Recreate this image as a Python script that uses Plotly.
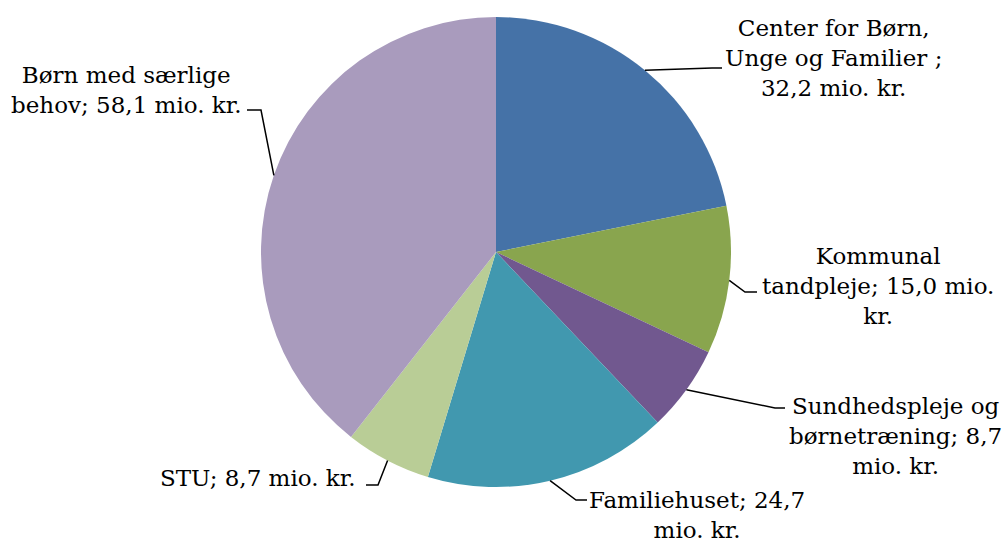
import math
import plotly.graph_objects as go

# data (mio. kr.)
labels = [
    "Center for Børn,<br>Unge og Familier ;<br>32,2 mio. kr.",
    "Kommunal<br>tandpleje; 15,0 mio.<br>kr.",
    "Sundhedspleje og<br>børnetræning; 8,7<br>mio. kr.",
    "Familiehuset; 24,7<br>mio. kr.",
    "STU; 8,7 mio. kr.",
    "Børn med særlige<br>behov; 58,1 mio. kr.",
]
values = [32.2, 15.0, 8.7, 24.7, 8.7, 58.1]
colors = ["#4572A7", "#89A54E", "#71588F", "#4198AF", "#B9CD96", "#A99BBD"]

# label layout (pixels in the 1004x543 page)
W, H = 1004, 543
CX, CY, R = 496, 252, 235
text_pos = [(833, 58, "center"), (878, 286, "center"), (895, 436, "center"),
            (697, 515, "center"), (358, 478, "right"), (126, 90, "center")]
anchors = [(722, 68), (757, 292), (785, 408), (587, 500), (366, 485), (247, 110)]
elbows = [(712, 68), (745, 292), (775, 408), (576, 500), (378, 485), (261, 110)]

FONT = "DejaVu Serif, Book Antiqua, Palatino Linotype, serif"

fig = go.Figure()
fig.add_trace(
    go.Pie(
        values=values,
        labels=[l.replace("<br>", " ") for l in labels],
        marker=dict(colors=colors, line=dict(width=0)),
        sort=False,
        direction="clockwise",
        rotation=0,
        textinfo="none",
        hoverinfo="label+value",
        domain=dict(x=[(CX - R) / W, (CX + R) / W],
                    y=[(H - CY - R) / H, (H - CY + R) / H]),
        showlegend=False,
    )
)

# leader lines from the middle of each slice's edge to its label
total = sum(values)
start = 0.0
shapes = []
for v, (ex, ey), (ax, ay) in zip(values, elbows, anchors):
    mid = (start + v / 2) / total * 2 * math.pi
    start += v
    px = CX + R * math.sin(mid)
    py = CY - R * math.cos(mid)
    path = f"M {px/W} {1-py/H} L {ex/W} {1-ey/H} L {ax/W} {1-ay/H}"
    shapes.append(dict(type="path", xref="paper", yref="paper", path=path,
                       line=dict(color="black", width=1.5)))

annotations = []
for text, (tx, ty, anchor) in zip(labels, text_pos):
    annotations.append(dict(
        x=tx / W, y=1 - ty / H, xref="paper", yref="paper",
        text=text, showarrow=False, xanchor=anchor, yanchor="middle",
        align="center", font=dict(family=FONT, size=23, color="black"),
    ))

fig.update_layout(
    width=W,
    height=H,
    margin=dict(l=0, r=0, t=0, b=0),
    paper_bgcolor="white",
    plot_bgcolor="white",
    shapes=shapes,
    annotations=annotations,
)

# drop the browser's default body margin so the figure fills the window
fig.write_html(
    "out.html",
    config={"displayModeBar": False},
    post_script="document.body.style.margin='0';",
)
